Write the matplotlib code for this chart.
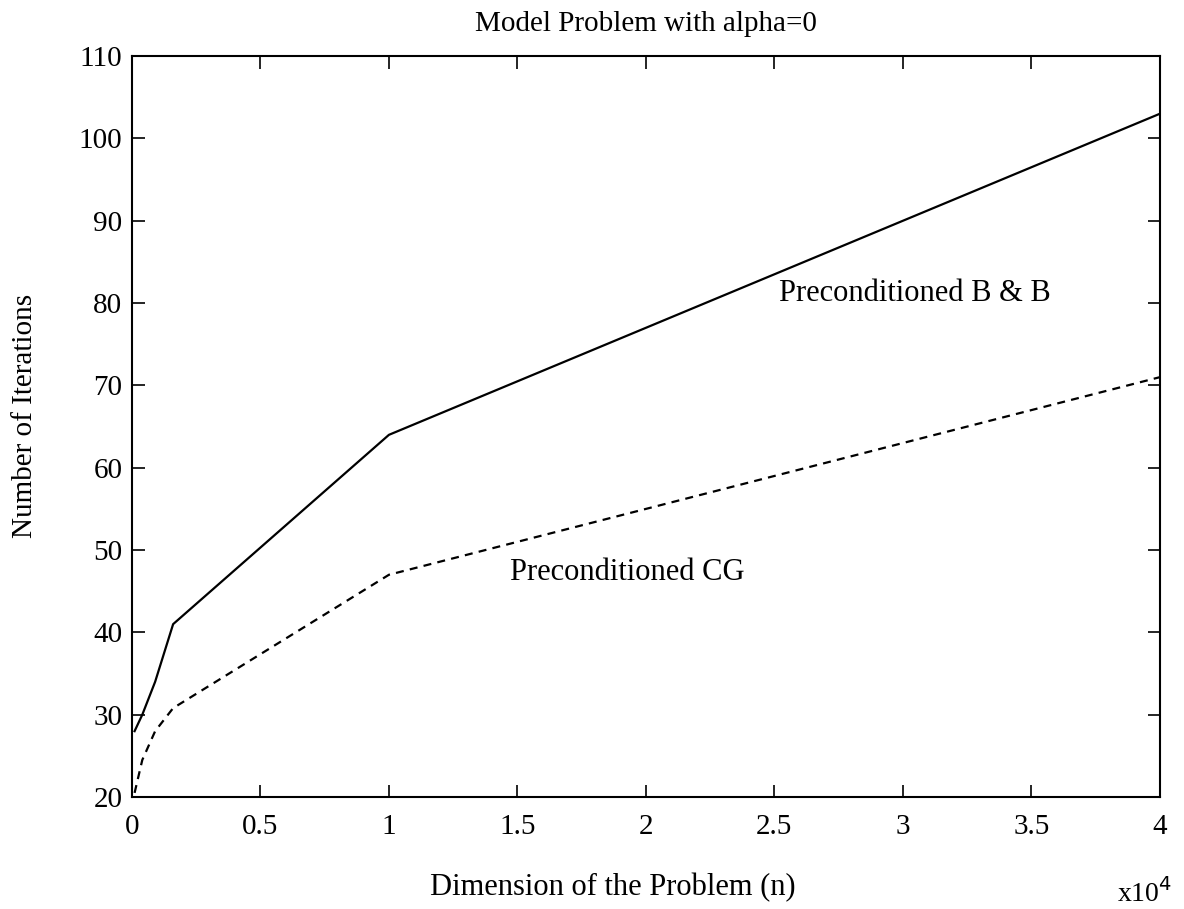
import matplotlib
matplotlib.use("Agg")
import matplotlib.pyplot as plt

plt.rcParams['font.family'] = ['Liberation Serif', 'DejaVu Serif']

n_dim = [0.01, 0.04, 0.09, 0.16, 1.0, 4.0]
iters_bb = [28, 30, 34, 41, 64, 103]
iters_cg = [20.5, 24.5, 28, 30.8, 47, 71]
xticks = [0, 0.5, 1, 1.5, 2, 2.5, 3, 3.5, 4]
xticklabels = ['0', '0.5', '1', '1.5', '2', '2.5', '3', '3.5', '4']
yticks = [20, 30, 40, 50, 60, 70, 80, 90, 100, 110]

fig = plt.figure(figsize=(11.84, 9.09), dpi=100)
ax = fig.add_axes([0.1115, 0.1232, 0.868, 0.815])

ax.plot(n_dim, iters_bb, color='black', linewidth=1.6, linestyle='-')
ax.plot(n_dim, iters_cg, color='black', linewidth=1.6, linestyle=(0, (3.6, 2.8)))

ax.set_xlim(0, 4)
ax.set_ylim(20, 110)
ax.set_xticks(xticks)
ax.set_xticklabels(xticklabels)
ax.set_yticks(yticks)
ax.tick_params(direction='in', top=True, right=True, length=9, width=1.2,
               labelsize=21)
ax.tick_params(axis='x', pad=12)
ax.tick_params(axis='y', pad=7)
for s in ax.spines.values():
    s.set_linewidth(1.5)

ax.set_title('Model Problem with alpha=0', fontsize=21, pad=18)
ax.set_xlabel('Dimension of the Problem (n)', fontsize=22)
ax.xaxis.set_label_coords(0.468, -0.103)
ax.set_ylabel('Number of Iterations', fontsize=21)
ax.yaxis.set_label_coords(-0.091, 0.515)

ax.text(2.52, 81.2, 'Preconditioned B & B', fontsize=22, ha='left', va='center')
ax.text(1.47, 47.3, 'Preconditioned CG', fontsize=22, ha='left', va='center')
fig.text(0.943, 0.008, 'x10$^4$', fontsize=20, ha='left', va='baseline')

fig.savefig('out.png', dpi=100)
